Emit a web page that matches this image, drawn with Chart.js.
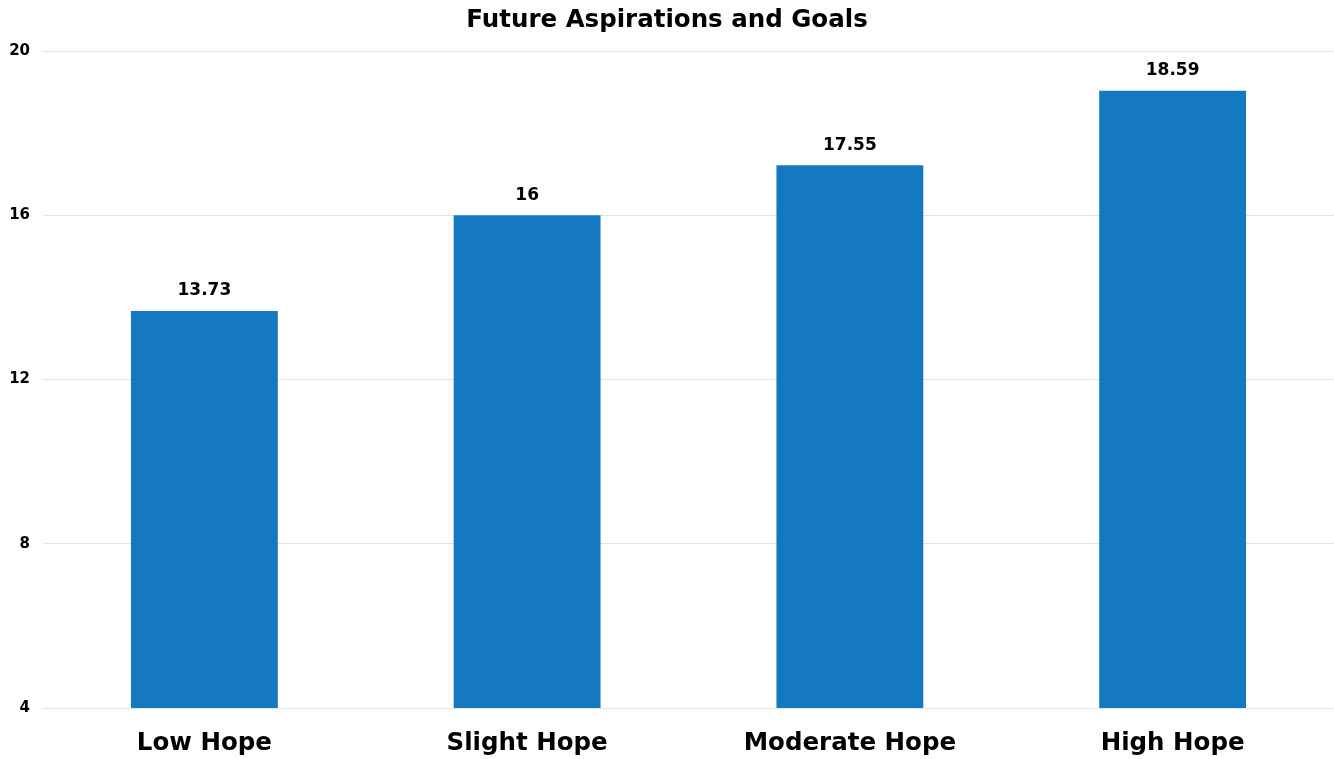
<!DOCTYPE html>
<html>
<head>
<meta charset="utf-8">
<script src="https://cdn.jsdelivr.net/npm/chart.js@4.4.1/dist/chart.umd.min.js"></script>
<style>
html,body{margin:0;padding:0;background:#fff;}
canvas{display:block;}
</style>
</head>
<body>
<canvas id="c" width="1334" height="759"></canvas>
<script>
const categories = ["Low Hope", "Slight Hope", "Moderate Hope", "High Hope"];
const barValues = [13.67, 16, 17.22, 19.03];
const valueLabels = ["13.73", "16", "17.55", "18.59"];
const yTicks = [4, 8, 12, 16, 20];
const chartTitle = "Future Aspirations and Goals";

const FONT = "'DejaVu Sans', sans-serif";

const valueLabelPlugin = {
  id: 'valueLabels',
  afterDatasetsDraw(chart) {
    const ctx = chart.ctx;
    const meta = chart.getDatasetMeta(0);
    ctx.save();
    ctx.font = "bold 17px " + FONT;
    ctx.fillStyle = "#000";
    ctx.textAlign = "center";
    ctx.textBaseline = "middle";
    meta.data.forEach((bar, i) => {
      ctx.fillText(valueLabels[i], bar.x, bar.y - 20);
    });
    ctx.restore();
  }
};

new Chart(document.getElementById('c'), {
  type: 'bar',
  data: {
    labels: categories,
    datasets: [{
      data: barValues,
      backgroundColor: '#1479c0',
      borderWidth: 0,
      barPercentage: 0.455,
      categoryPercentage: 1.0
    }]
  },
  options: {
    responsive: false,
    animation: false,
    layout: { padding: { left: 0, right: 0, top: 0, bottom: 0 } },
    plugins: {
      legend: { display: false },
      tooltip: { enabled: false },
      title: {
        display: true,
        text: chartTitle,
        color: '#000',
        font: { family: FONT, size: 24.5, weight: 'bold' },
        padding: { top: 6, bottom: 15.6 }
      }
    },
    scales: {
      x: {
        grid: { display: false, drawTicks: false },
        border: { display: false },
        afterFit(scale) { scale.height = 51; },
        ticks: {
          color: '#000',
          font: { family: FONT, size: 24.5, weight: 'bold' },
          padding: 21,
          maxRotation: 0
        }
      },
      y: {
        min: 4,
        max: 20,
        afterBuildTicks(scale) { scale.ticks = yTicks.map(v => ({ value: v })); },
        afterFit(scale) { scale.width = 43; },
        grid: { color: '#e3e3e3', lineWidth: 1, drawTicks: false },
        border: { display: false },
        ticks: {
          color: '#000',
          font: { family: FONT, size: 15, weight: 'bold' },
          padding: 13
        }
      }
    }
  },
  plugins: [valueLabelPlugin]
});
</script>
</body>
</html>
